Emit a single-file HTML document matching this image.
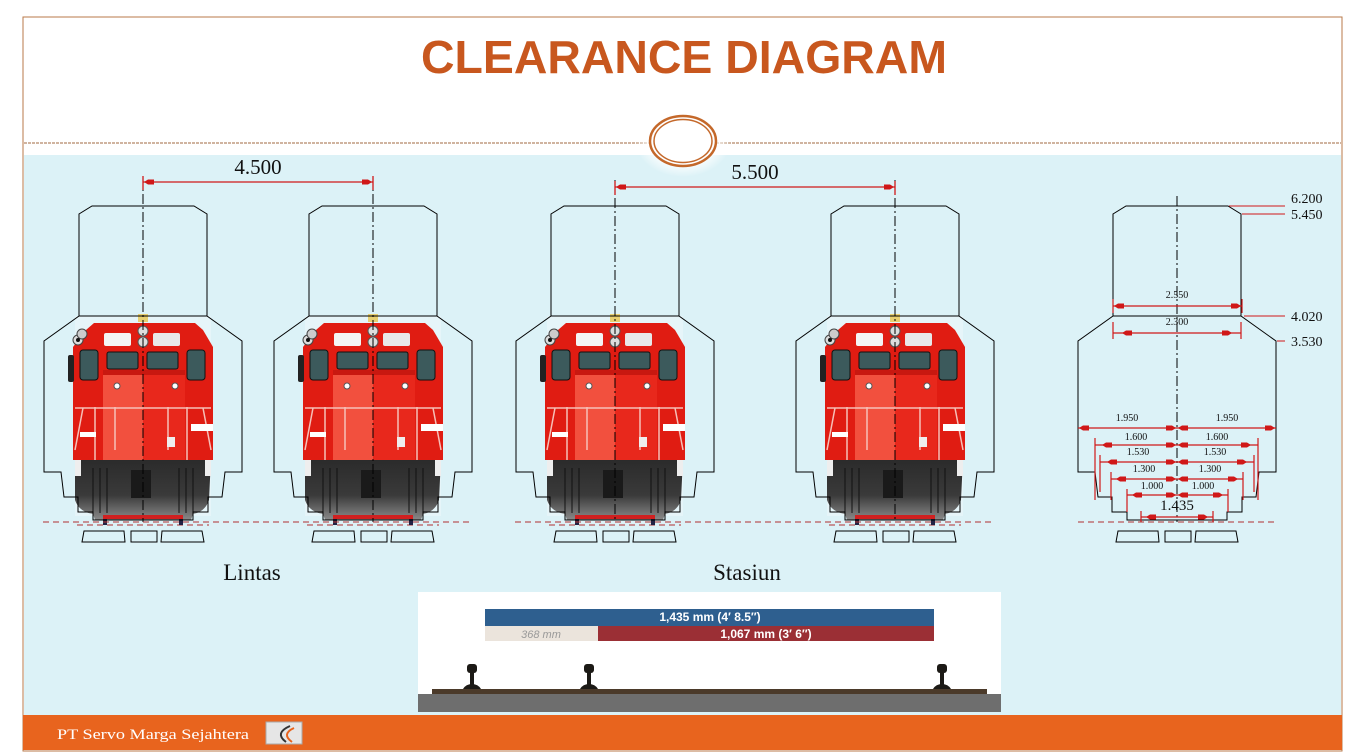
<!DOCTYPE html>
<html><head><meta charset="utf-8"><style>
html,body{margin:0;padding:0;background:#fff;}
svg{display:block;}
</style></head><body>
<svg width="1346" height="754" viewBox="0 0 1346 754" xmlns="http://www.w3.org/2000/svg">
<defs>
<radialGradient id="glow" cx="50%" cy="50%" r="50%">
<stop offset="0.6" stop-color="#fff"/><stop offset="1" stop-color="#fff" stop-opacity="0"/>
</radialGradient>
<linearGradient id="under" x1="0" y1="0" x2="0" y2="1">
<stop offset="0" stop-color="#2a2a2a"/><stop offset="0.6" stop-color="#3a3a3a"/><stop offset="1" stop-color="#8a8a8a"/>
</linearGradient>
<g id="outline" fill="none" stroke="#000" stroke-width="1">
<path d="M -51,206 L 51,206 L 64,214 L 64,316 L 99,341 L 99,472 L 82,472 L 79,497 L 65,497 L 65,512 L 50,512 L 50,520 L -50,520 L -50,512 L -65,512 L -65,497 L -79,497 L -82,472 L -99,472 L -99,341 L -64,316 L -64,214 Z"/>
<line x1="-64" y1="316" x2="64" y2="316"/>
<path d="M -59,531 L -19,531 L -18,542 L -61,542 Z M -12,531 L 14,531 L 14,542 L -12,542 Z M 19,531 L 59,531 L 61,542 L 18,542 Z"/>
</g>
<g id="loco">
<rect x="-68" y="316" width="136" height="200" fill="#eaf7fa" opacity="0.7"/>
<path d="M -66,525 L 66,525" stroke="#b03030" stroke-width="1" stroke-dasharray="6,4"/>
<path d="M -68,458 L 68,458 L 66,500 Q 62,512 50,514 L 48,520 L -48,520 L -50,514 Q -64,512 -68,500 Z" fill="url(#under)"/>
<rect x="-40" y="515" width="80" height="4" fill="#d02020"/>
<g stroke="#111" stroke-width="1" fill="none">
<path d="M -50,468 l 0,45 M -43,468 l 0,45 M -36,468 l 0,45 M 36,468 l 0,45 M 43,468 l 0,45 M 50,468 l 0,45"/>
</g>
<rect x="-12" y="470" width="20" height="28" fill="#1a1a1a"/>
<rect x="-68" y="460" width="6" height="16" fill="#eee"/>
<rect x="62" y="460" width="6" height="16" fill="#eee"/>
<path d="M -70,347 L -57,330 L -49,323 L 52,323 L 60,330 L 70,347 L 70,460 L -70,460 Z" fill="#e01c12"/>
<path d="M -40,373 L 0,373 L 0,460 L -40,460 Z" fill="#f2503e"/>
<path d="M 0,373 L 42,373 L 42,460 L 0,460 Z" fill="#e8281c"/>
<rect x="-40" y="370" width="82" height="5" fill="#c81810"/>
<rect x="-39" y="333" width="27" height="13" rx="2" fill="#f4f4f4"/>
<rect x="10" y="333" width="27" height="13" rx="2" fill="#e8e8e8"/>
<rect x="-36" y="352" width="31" height="17" rx="2" fill="#3c5a5c" stroke="#111"/>
<rect x="4" y="352" width="31" height="17" rx="2" fill="#3c5a5c" stroke="#111"/>
<rect x="-63" y="350" width="18" height="30" rx="3" fill="#3c5a5c" stroke="#111"/>
<rect x="44" y="350" width="18" height="30" rx="3" fill="#3c5a5c" stroke="#111"/>
<rect x="-75" y="355" width="6" height="27" rx="2" fill="#222"/>
<rect x="-5" y="314" width="10" height="8" fill="#e8d070"/>
<circle cx="0" cy="331" r="5" fill="#ddd" stroke="#555"/>
<circle cx="0" cy="342" r="5" fill="#ddd" stroke="#555"/>
<circle cx="-65" cy="340" r="5" fill="#ddd" stroke="#444"/>
<circle cx="-61" cy="334" r="5" fill="#ccc" stroke="#444"/>
<circle cx="-65" cy="340" r="2" fill="#111"/>
<circle cx="-26" cy="386" r="3" fill="#fff" stroke="#555"/>
<circle cx="32" cy="386" r="3" fill="#fff" stroke="#555"/>
<g stroke="#f6c0b8" stroke-width="1.5" fill="none">
<path d="M -48,407 L -48,460 M -28,407 L -28,450 M 25,407 L 25,450 M 44,407 L 44,460"/>
<path d="M -68,408 L 68,408"/>
<path d="M -60,408 L -68,450 M 60,408 L 68,450"/>
</g>
<rect x="-63" y="432" width="16" height="5" fill="#fff"/>
<rect x="48" y="424" width="22" height="7" fill="#fff"/>
<rect x="24" y="437" width="8" height="10" fill="#eee"/>
<rect x="-40" y="519" width="4" height="6" fill="#224"/>
<rect x="36" y="519" width="4" height="6" fill="#224"/>
</g>
<g id="arr">
<path d="M 0,0 L 4,-2.5 L 10,-2.5 L 10,2.5 L 4,2.5 Z" fill="#d01818"/>
</g>
</defs>

<rect x="23" y="17" width="1319" height="734" fill="#fff" stroke="#b97a4a" stroke-width="1"/>
<rect x="24" y="155" width="1317" height="561" fill="#dcf2f7"/>
<line x1="24" y1="143" x2="1341" y2="143" stroke="#a06a40" stroke-width="1" stroke-dasharray="3,1"/>
<ellipse cx="683" cy="141" rx="48" ry="36" fill="url(#glow)"/>
<ellipse cx="683" cy="141" rx="33" ry="25" fill="#fff" stroke="#c4682a" stroke-width="2.5"/>
<ellipse cx="683" cy="141" rx="29" ry="21.5" fill="none" stroke="#c4682a" stroke-width="1.5"/>

<text x="684" y="73" text-anchor="middle" font-family="Liberation Sans, sans-serif" font-weight="bold" font-size="46" fill="#c8571e" textLength="526" lengthAdjust="spacingAndGlyphs">CLEARANCE DIAGRAM</text>

<g transform="translate(143,0)"><use href="#loco"/><use href="#outline"/></g>
<g transform="translate(373,0)"><use href="#loco"/><use href="#outline"/></g>
<g transform="translate(615,0)"><use href="#loco"/><use href="#outline"/></g>
<g transform="translate(895,0)"><use href="#loco"/><use href="#outline"/></g>
<g transform="translate(1177,0)"><use href="#outline"/></g>

<g stroke="#000" stroke-width="1" stroke-dasharray="10,3,2,3">
<line x1="143" y1="176" x2="143" y2="522"/>
<line x1="373" y1="176" x2="373" y2="522"/>
<line x1="615" y1="180" x2="615" y2="522"/>
<line x1="895" y1="180" x2="895" y2="522"/>
<line x1="1177" y1="196" x2="1177" y2="522"/>
</g>
<g stroke="#b03030" stroke-width="1" stroke-dasharray="6,4">
<line x1="43" y1="522" x2="472" y2="522"/>
<line x1="515" y1="522" x2="995" y2="522"/>
<line x1="1078" y1="522" x2="1276" y2="522"/>
</g>

<g stroke="#d01818" stroke-width="1.3">
<line x1="143" y1="182" x2="373" y2="182"/>
<line x1="143" y1="176" x2="143" y2="190"/><line x1="373" y1="176" x2="373" y2="190"/>
<line x1="615" y1="187" x2="895" y2="187"/>
<line x1="615" y1="181" x2="615" y2="195"/><line x1="895" y1="181" x2="895" y2="195"/>
</g>
<use href="#arr" transform="translate(144,182)"/><use href="#arr" transform="translate(372,182) scale(-1,1)"/>
<use href="#arr" transform="translate(616,187)"/><use href="#arr" transform="translate(894,187) scale(-1,1)"/>
<text x="258" y="174" text-anchor="middle" font-family="Liberation Serif, serif" font-size="21" fill="#111">4.500</text>
<text x="755" y="179" text-anchor="middle" font-family="Liberation Serif, serif" font-size="21" fill="#111">5.500</text>

<text x="252" y="580" text-anchor="middle" font-family="Liberation Serif, serif" font-size="23" fill="#111">Lintas</text>
<text x="747" y="580" text-anchor="middle" font-family="Liberation Serif, serif" font-size="23" fill="#111">Stasiun</text>

<g stroke="#d01818" stroke-width="1.2">
<line x1="1113" y1="306" x2="1242" y2="306"/><line x1="1113" y1="299" x2="1113" y2="313"/><line x1="1242" y1="299" x2="1242" y2="313"/>
<line x1="1113" y1="333" x2="1241" y2="333"/><line x1="1113" y1="322" x2="1113" y2="339"/><line x1="1241" y1="322" x2="1241" y2="339"/>
<line x1="1078" y1="428" x2="1276" y2="428"/>
<line x1="1095" y1="445" x2="1258" y2="445"/><line x1="1095" y1="438" x2="1095" y2="500"/><line x1="1258" y1="438" x2="1258" y2="500"/>
<line x1="1100" y1="462" x2="1254" y2="462"/><line x1="1100" y1="455" x2="1100" y2="492"/><line x1="1254" y1="455" x2="1254" y2="492"/>
<line x1="1111" y1="479" x2="1243" y2="479"/><line x1="1111" y1="472" x2="1111" y2="500"/><line x1="1243" y1="472" x2="1243" y2="500"/>
<line x1="1127" y1="495" x2="1228" y2="495"/><line x1="1127" y1="489" x2="1127" y2="512"/><line x1="1228" y1="489" x2="1228" y2="512"/>
<line x1="1141" y1="517" x2="1213" y2="517"/><line x1="1141" y1="511" x2="1141" y2="522"/><line x1="1213" y1="511" x2="1213" y2="522"/>
</g>
<g>
<use href="#arr" transform="translate(1114,306)"/><use href="#arr" transform="translate(1241,306) scale(-1,1)"/>
<use href="#arr" transform="translate(1122,333)"/><use href="#arr" transform="translate(1232,333) scale(-1,1)"/>
<use href="#arr" transform="translate(1079,428)"/><use href="#arr" transform="translate(1176,428) scale(-1,1)"/><use href="#arr" transform="translate(1178,428)"/><use href="#arr" transform="translate(1275,428) scale(-1,1)"/>
<use href="#arr" transform="translate(1102,445)"/><use href="#arr" transform="translate(1176,445) scale(-1,1)"/><use href="#arr" transform="translate(1178,445)"/><use href="#arr" transform="translate(1251,445) scale(-1,1)"/>
<use href="#arr" transform="translate(1107,462)"/><use href="#arr" transform="translate(1176,462) scale(-1,1)"/><use href="#arr" transform="translate(1178,462)"/><use href="#arr" transform="translate(1247,462) scale(-1,1)"/>
<use href="#arr" transform="translate(1116,479)"/><use href="#arr" transform="translate(1176,479) scale(-1,1)"/><use href="#arr" transform="translate(1178,479)"/><use href="#arr" transform="translate(1238,479) scale(-1,1)"/>
<use href="#arr" transform="translate(1132,495)"/><use href="#arr" transform="translate(1176,495) scale(-1,1)"/><use href="#arr" transform="translate(1178,495)"/><use href="#arr" transform="translate(1223,495) scale(-1,1)"/>
<use href="#arr" transform="translate(1146,517)"/><use href="#arr" transform="translate(1208,517) scale(-1,1)"/>
</g>
<g font-family="Liberation Serif, serif" font-size="10" fill="#111" text-anchor="middle">
<text x="1177" y="298">2.550</text>
<text x="1177" y="325">2.300</text>
<text x="1127" y="421">1.950</text><text x="1227" y="421">1.950</text>
<text x="1136" y="440">1.600</text><text x="1217" y="440">1.600</text>
<text x="1138" y="455">1.530</text><text x="1215" y="455">1.530</text>
<text x="1144" y="472">1.300</text><text x="1210" y="472">1.300</text>
<text x="1152" y="489">1.000</text><text x="1203" y="489">1.000</text>
<text x="1177" y="510" font-size="15">1.435</text>
</g>
<g stroke="#d01818" stroke-width="1">
<line x1="1229" y1="206" x2="1285" y2="206"/>
<line x1="1242" y1="214" x2="1285" y2="214"/>
<line x1="1244" y1="316" x2="1285" y2="316"/>
<line x1="1277" y1="341" x2="1285" y2="341"/>
</g>
<g font-family="Liberation Serif, serif" font-size="14" fill="#111">
<text x="1291" y="203">6.200</text>
<text x="1291" y="219">5.450</text>
<text x="1291" y="321">4.020</text>
<text x="1291" y="346">3.530</text>
</g>

<rect x="418" y="592" width="583" height="120" fill="#fff"/>
<rect x="485" y="609" width="449" height="17" fill="#2e5f8f"/>
<rect x="485" y="626" width="113" height="15" fill="#ebe4dc"/>
<rect x="598" y="626" width="336" height="15" fill="#9b2f35"/>
<text x="710" y="621" text-anchor="middle" font-family="Liberation Sans, sans-serif" font-weight="bold" font-size="12" fill="#fff">1,435 mm (4′ 8.5″)</text>
<text x="766" y="638" text-anchor="middle" font-family="Liberation Sans, sans-serif" font-weight="bold" font-size="12" fill="#fff">1,067 mm (3′ 6″)</text>
<text x="541" y="638" text-anchor="middle" font-family="Liberation Sans, sans-serif" font-style="italic" font-size="11" fill="#999">368 mm</text>
<rect x="432" y="689" width="555" height="5" fill="#4b3a2a"/>
<rect x="418" y="694" width="583" height="18" fill="#6e6e6e"/>
<g fill="#1c1a16">
<g transform="translate(472,0)"><rect x="-5" y="664" width="10" height="9" rx="3"/><rect x="-2" y="672" width="4" height="14"/><path d="M -9,689 Q -6,684 0,684 Q 6,684 9,689 Z"/></g>
<g transform="translate(589,0)"><rect x="-5" y="664" width="10" height="9" rx="3"/><rect x="-2" y="672" width="4" height="14"/><path d="M -9,689 Q -6,684 0,684 Q 6,684 9,689 Z"/></g>
<g transform="translate(942,0)"><rect x="-5" y="664" width="10" height="9" rx="3"/><rect x="-2" y="672" width="4" height="14"/><path d="M -9,689 Q -6,684 0,684 Q 6,684 9,689 Z"/></g>
</g>

<rect x="23" y="715" width="1319" height="35" fill="#e8641e"/>
<text x="57" y="739" font-family="Liberation Serif, serif" font-size="15" fill="#fff" textLength="192" lengthAdjust="spacingAndGlyphs">PT Servo Marga Sejahtera</text>
<rect x="266" y="722" width="36" height="22" fill="#e6e6e6" stroke="#aaa"/>
<path d="M 290,726 Q 274,733 286,742" stroke="#333" stroke-width="2" fill="none"/>
<path d="M 294,728 Q 281,734 292,742" stroke="#e8641e" stroke-width="2" fill="none"/>
</svg>
</body></html>
